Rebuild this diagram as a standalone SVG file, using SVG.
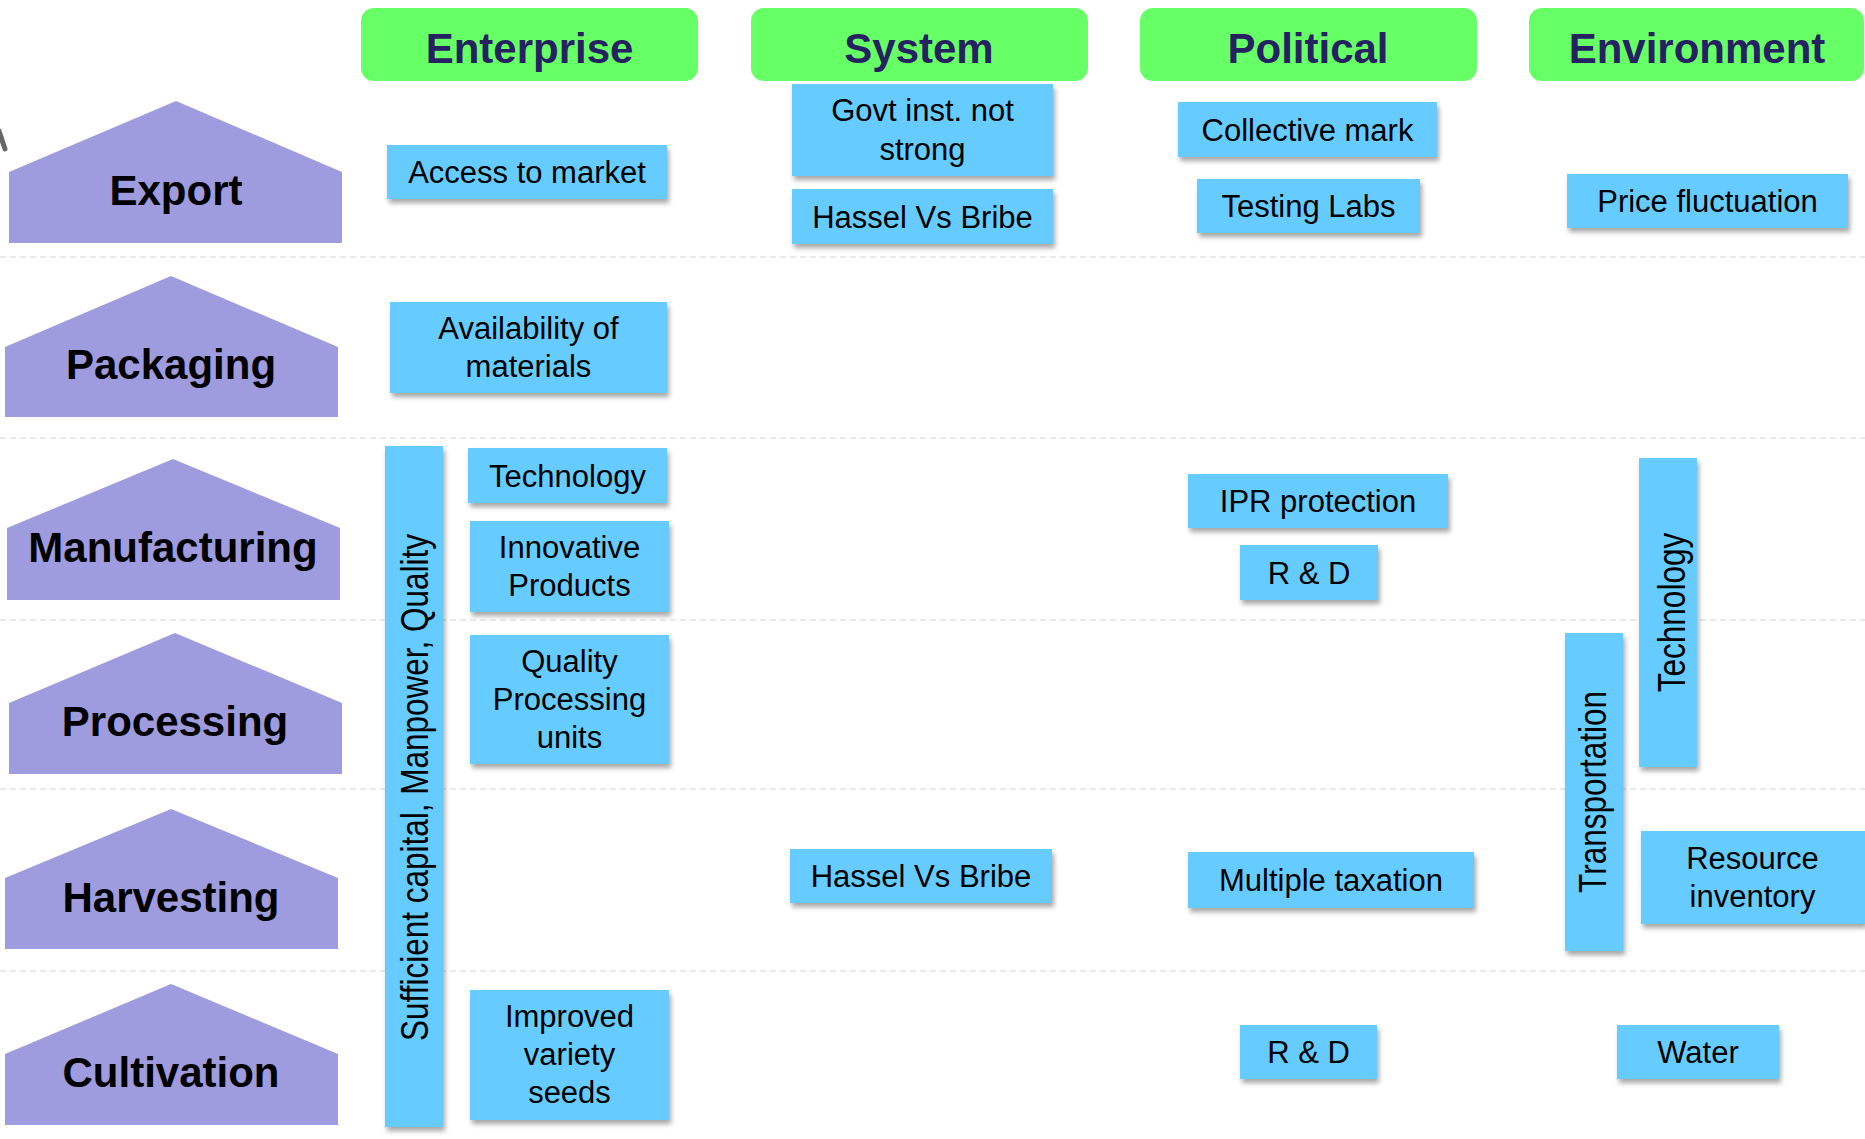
<svg xmlns="http://www.w3.org/2000/svg" width="1865" height="1139" viewBox="0 0 1865 1139">
<defs>
<filter id="sh" x="-10%" y="-10%" width="125%" height="130%">
<feDropShadow dx="2" dy="4" stdDeviation="2.5" flood-color="#000" flood-opacity="0.35"/>
</filter>
<style>
.sep{stroke:#e3e3e3;stroke-width:1.5;stroke-dasharray:6 4;fill:none}
.hdr{fill:#66FF66}
.ht{font-family:"Liberation Sans",Arial,sans-serif;font-weight:bold;font-size:42px;fill:#262262;text-anchor:middle}
.pent{fill:#9E9CDE}
.pt{font-family:"Liberation Sans",Arial,sans-serif;font-weight:bold;font-size:42px;fill:#000;text-anchor:middle}
.box{fill:#66CCFF;filter:url(#sh)}
.bt{font-family:"Liberation Sans",Arial,sans-serif;font-size:31px;fill:#000;text-anchor:middle}
.vt{font-family:"Liberation Sans",Arial,sans-serif;font-size:31.5px;fill:#000;text-anchor:middle}
</style>
</defs>
<rect width="1865" height="1139" fill="#fff"/>
<g id="separators">
<line class="sep" x1="0" y1="257" x2="1865" y2="257"/>
<line class="sep" x1="0" y1="438" x2="1865" y2="438"/>
<line class="sep" x1="0" y1="620" x2="1865" y2="620"/>
<line class="sep" x1="0" y1="789" x2="1865" y2="789"/>
<line class="sep" x1="0" y1="971" x2="1865" y2="971"/>
</g>
<g id="connectors">
<line x1="-1" y1="131" x2="5" y2="149" stroke="#666" stroke-width="5" stroke-linecap="round"/>
</g>
<g id="header-enterprise"><rect class="hdr" x="361" y="8" width="337" height="73" rx="13"/><text class="ht" x="529.5" y="63">Enterprise</text></g>
<g id="header-system"><rect class="hdr" x="751" y="8" width="337" height="73" rx="13"/><text class="ht" x="919" y="63">System</text></g>
<g id="header-political"><rect class="hdr" x="1140" y="8" width="337" height="73" rx="13"/><text class="ht" x="1308" y="63">Political</text></g>
<g id="header-environment"><rect class="hdr" x="1529" y="8" width="335" height="73" rx="13"/><text class="ht" x="1697" y="63">Environment</text></g>

<g id="stage-export"><polygon class="pent" points="9,172 176,101 342,172 342,243 9,243"/><text class="pt" x="176" y="205">Export</text></g>
<g id="stage-packaging"><polygon class="pent" points="5,347 171,276 338,347 338,417 5,417"/><text class="pt" x="171" y="379">Packaging</text></g>
<g id="stage-manufacturing"><polygon class="pent" points="7,528 173,459 340,528 340,600 7,600"/><text class="pt" x="173" y="562">Manufacturing</text></g>
<g id="stage-processing"><polygon class="pent" points="9,703 175,633 342,703 342,774 9,774"/><text class="pt" x="175" y="736">Processing</text></g>
<g id="stage-harvesting"><polygon class="pent" points="5,878 171,809 338,878 338,949 5,949"/><text class="pt" x="171" y="912">Harvesting</text></g>
<g id="stage-cultivation"><polygon class="pent" points="5,1054 171,984 338,1054 338,1125 5,1125"/><text class="pt" x="171" y="1087">Cultivation</text></g>

<g id="ent-access"><rect class="box" x="387" y="145" width="280" height="54"/><text class="bt" x="527" y="183">Access to market</text></g>
<g id="ent-availability"><rect class="box" x="390" y="302" width="277" height="91"/><text class="bt" x="528.5" y="339">Availability of</text><text class="bt" x="528.5" y="377">materials</text></g>
<g id="ent-bar"><rect class="box" x="385" y="446" width="58" height="681"/><text class="vt" transform="translate(428,787.5) rotate(-90) scale(1,1.22)">Sufficient capital, Manpower, Quality</text></g>
<g id="ent-technology"><rect class="box" x="468" y="448" width="199" height="55"/><text class="bt" x="567.5" y="486.5">Technology</text></g>
<g id="ent-innovative"><rect class="box" x="470" y="521" width="199" height="91"/><text class="bt" x="569.5" y="558">Innovative</text><text class="bt" x="569.5" y="596">Products</text></g>
<g id="ent-quality"><rect class="box" x="470" y="635" width="199" height="129"/><text class="bt" x="569.5" y="672">Quality</text><text class="bt" x="569.5" y="710">Processing</text><text class="bt" x="569.5" y="748">units</text></g>
<g id="ent-seeds"><rect class="box" x="470" y="990" width="199" height="130"/><text class="bt" x="569.5" y="1027">Improved</text><text class="bt" x="569.5" y="1065">variety</text><text class="bt" x="569.5" y="1103">seeds</text></g>

<g id="sys-govt"><rect class="box" x="792" y="84" width="261" height="92"/><text class="bt" x="922.5" y="121">Govt inst. not</text><text class="bt" x="922.5" y="160">strong</text></g>
<g id="sys-hassel-1"><rect class="box" x="792" y="189" width="261" height="55"/><text class="bt" x="922.5" y="227.5">Hassel Vs Bribe</text></g>
<g id="sys-hassel-2"><rect class="box" x="790" y="849" width="262" height="54"/><text class="bt" x="921" y="887">Hassel Vs Bribe</text></g>

<g id="pol-collective"><rect class="box" x="1178" y="102" width="259" height="55"/><text class="bt" x="1307.5" y="140.5">Collective mark</text></g>
<g id="pol-testing"><rect class="box" x="1197" y="179" width="223" height="54"/><text class="bt" x="1308.5" y="217">Testing Labs</text></g>
<g id="pol-ipr"><rect class="box" x="1188" y="474" width="260" height="54"/><text class="bt" x="1318" y="512">IPR protection</text></g>
<g id="pol-rd-1"><rect class="box" x="1240" y="545" width="138" height="55"/><text class="bt" x="1309" y="583.5">R &amp; D</text></g>
<g id="pol-taxation"><rect class="box" x="1188" y="852" width="286" height="56"/><text class="bt" x="1331" y="891">Multiple taxation</text></g>
<g id="pol-rd-2"><rect class="box" x="1240" y="1025" width="137" height="54"/><text class="bt" x="1308.5" y="1063">R &amp; D</text></g>

<g id="env-price"><rect class="box" x="1567" y="174" width="281" height="54"/><text class="bt" x="1707.5" y="212">Price fluctuation</text></g>
<g id="env-technology"><rect class="box" x="1639" y="458" width="58" height="309"/><text class="vt" transform="translate(1685,612.5) rotate(-90) scale(1,1.25)">Technology</text></g>
<g id="env-transportation"><rect class="box" x="1565" y="633" width="58" height="318"/><text class="vt" transform="translate(1606,792) rotate(-90) scale(1,1.25)">Transportation</text></g>
<g id="env-resource"><rect class="box" x="1641" y="831" width="224" height="93"/><text class="bt" x="1752.5" y="869">Resource</text><text class="bt" x="1752.5" y="907">inventory</text></g>
<g id="env-water"><rect class="box" x="1617" y="1025" width="162" height="54"/><text class="bt" x="1698" y="1063">Water</text></g>
</svg>
